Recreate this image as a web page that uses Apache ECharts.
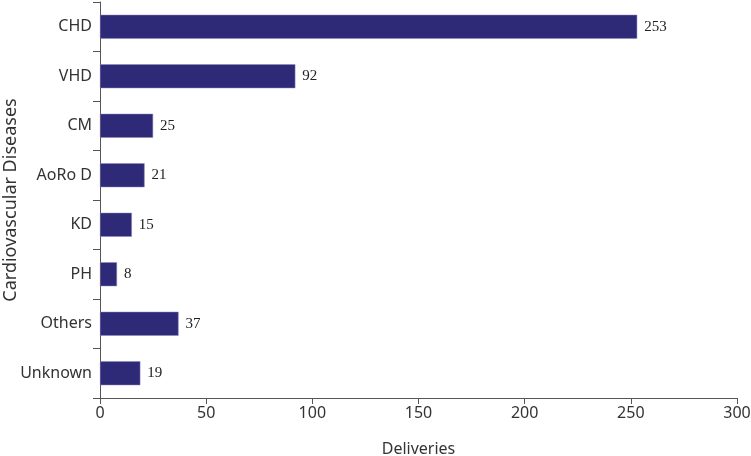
<!DOCTYPE html>
<html><head><meta charset="utf-8">
<script src="https://cdn.jsdelivr.net/npm/echarts@6/dist/echarts.min.js"></script>
<style>html,body{margin:0;padding:0;background:#fff}#c{width:751px;height:456px}</style>
</head><body><div id="c"></div>
<script>
const categories = ["CHD","VHD","CM","AoRo D","KD","PH","Others","Unknown"];
const deliveries = [253,92,25,21,15,8,37,19];
const xTicks = {min:0,max:300,interval:50};

const chart = echarts.init(document.getElementById('c'));
chart.setOption({
  animation:false,
  grid:{left:100,right:14,top:2,bottom:58,containLabel:false,outerBoundsMode:'none'},
  xAxis:{type:'value',min:xTicks.min,max:xTicks.max,interval:xTicks.interval,
    name:'Deliveries',nameLocation:'middle',nameGap:43,nameMoveOverlap:false,
    nameTextStyle:{fontFamily:'Noto Sans',fontSize:16,color:'#333'},
    axisLine:{show:true,lineStyle:{color:'#555',width:1}},
    axisTick:{show:true,length:6,lineStyle:{color:'#555'}},
    axisLabel:{fontFamily:'Noto Sans',fontSize:16,color:'#333',margin:7},
    splitLine:{show:false}},
  yAxis:{type:'category',data:categories,inverse:true,
    name:'Cardiovascular Diseases',nameLocation:'middle',nameGap:80,nameMoveOverlap:false,
    nameTextStyle:{fontFamily:'Noto Sans',fontSize:18,color:'#333'},
    axisLine:{show:true,lineStyle:{color:'#555',width:1}},
    axisTick:{show:true,length:7,lineStyle:{color:'#555'}},
    axisLabel:{fontFamily:'Noto Sans',fontSize:16,color:'#333',margin:8}},
  series:[{type:'bar',data:deliveries,barWidth:24,
    itemStyle:{color:'#2f2a78',borderColor:'#8c88c0',borderWidth:0.5},
    label:{show:true,position:'right',distance:7,fontFamily:'Liberation Serif',fontSize:15,color:'#222'}}]
});
</script></body></html>
